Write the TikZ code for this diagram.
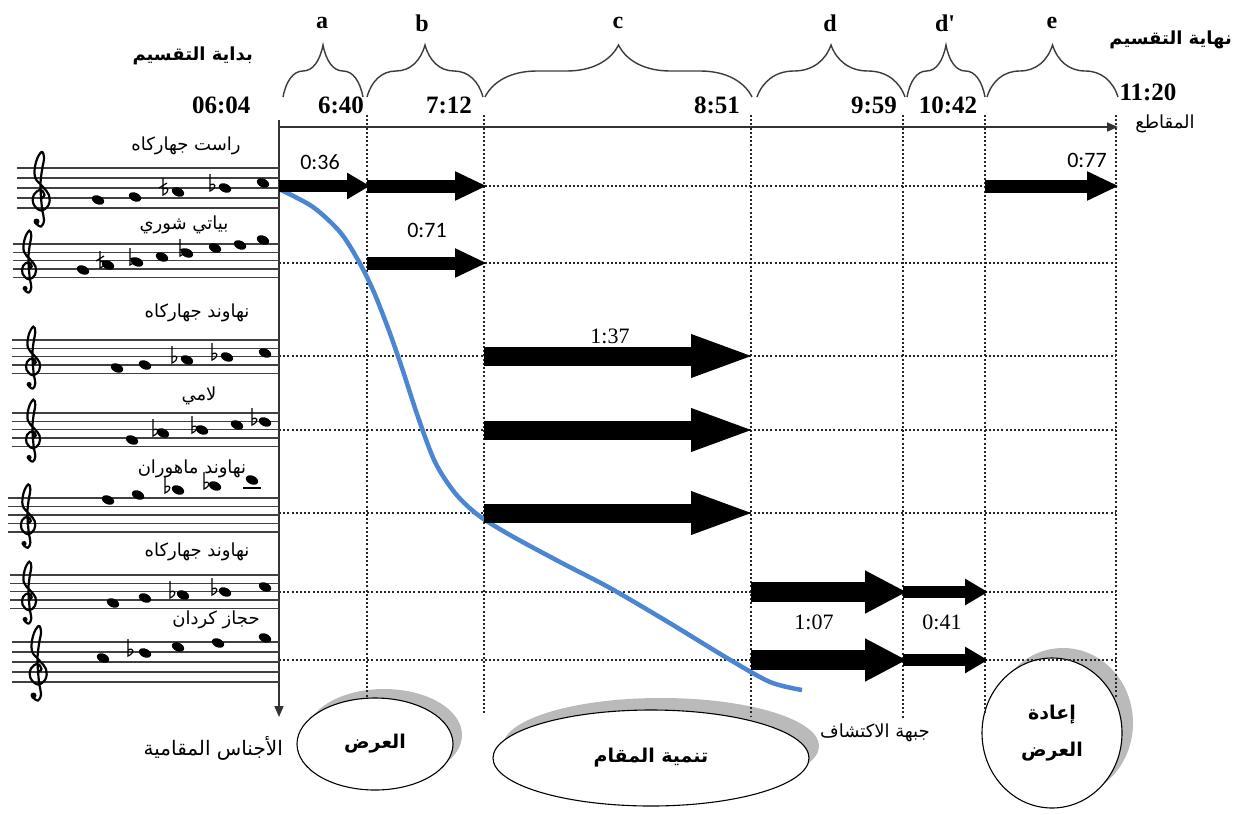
\documentclass[tikz,border=0pt]{standalone}
\usepackage{fontspec}
\setmainfont{Liberation Serif}
\newfontfamily\arabicfont[Script=Arabic]{DejaVu Sans}
\newfontfamily\numsans{Carlito}
\TeXXeTstate=1
\usetikzlibrary{arrows.meta,decorations.pathreplacing,shapes.geometric,shadows}

\definecolor{curveblue}{RGB}{76,134,210}
\definecolor{bracegray}{RGB}{60,60,60}

% right-to-left Arabic text
\newcommand\AR[1]{{\arabicfont\beginR #1\endR}}

% five staff lines from x=#1 to the time axis, top line at #2, spacing #3
\newcommand\staff[3]{%
  \foreach \k in {0,...,4}{\draw[staffline] (#1,#2+\k*#3) -- (279,#2+\k*#3);}}

% treble clef, centre x=#1, bottom staff line y=#2, spacing #3
\newcommand\gclef[3]{%
  \begin{scope}[shift={(#1,#2)},x=#3pt,y=#3pt]
    \draw[line width=2.2pt, line cap=round] plot[smooth, tension=0.65] coordinates
      {(0.05,0.95) (0.45,1.3) (0.05,1.8) (-0.6,1.35) (-0.65,0.4) (0.1,-0.25)
       (0.85,0.3) (0.9,1.3) (0.25,2.15) (-0.5,3.1) (-0.4,4.6) (0.15,5.6)
       (0.4,5.0) (0.2,3.8) (0.05,2.2) (0.2,0.0) (0.4,-1.2) (0.1,-1.85) (-0.4,-1.55)};
    \fill (-0.35,-1.35) circle[radius=0.3];
  \end{scope}}

% note head
\newcommand\nhd[2]{\fill[shift={(#1,#2)},rotate=-25] (0,0) ellipse[x radius=6.5,y radius=4.3];}
% flat sign
\newcommand\kflat[2]{\draw[line width=1.2pt,shift={(#1,#2)}] (0,-14) -- (0,3) .. controls (7,0) and (6,-6) .. (0,-3);}
% flat sign with slash
\newcommand\kkoron[2]{\kflat{#1}{#2}\draw[line width=1.2pt,shift={(#1,#2)}] (-4,-4) -- (4,-9);}

\begin{document}
\begin{tikzpicture}[x=1pt,y=-1pt,
  staffline/.style={line width=1.3pt, black!75},
  grid/.style={line width=2pt, dash pattern=on 2pt off 2.2pt, black!85},
  axis/.style={line width=1.6pt, black!80},
  brc/.style={decorate, decoration={brace, amplitude=52pt}, line width=1.4pt, bracegray},
  letter/.style={font=\bfseries\fontsize{24}{26}\selectfont},
  tlab/.style={font=\bfseries\fontsize{25}{27}\selectfont},
  arb/.style={font=\fontsize{18}{20}\selectfont, inner sep=0pt},
  arbb/.style={font=\bfseries\fontsize{18}{20}\selectfont, inner sep=0pt},
  slab/.style={font=\numsans\fontsize{22}{24}\selectfont},
  rlab/.style={font=\fontsize{22}{24}\selectfont},
  oval/.style={ellipse, draw, line width=1.1pt, fill=white, inner sep=0pt,
    font=\bfseries\fontsize{19}{21}\selectfont},
  arrS/.style={line width=12pt, shorten >=-3pt, -{Triangle[length=23pt 0, width=25pt 0]}},
  arrM/.style={line width=13pt, shorten >=-3pt, -{Triangle[length=32pt 0, width=27pt 0]}},
  arrL/.style={line width=19pt, shorten >=-6pt, -{Triangle[length=66pt 0, width=38pt 0]}},
  arrD/.style={line width=20pt, shorten >=-4pt, -{Triangle[length=42pt 0, width=40pt 0]}},
]
\fill[white] (0,0) rectangle (1239,814);
\useasboundingbox (0,0) rectangle (1239,814);

% section ellipses
\node[oval, minimum width=156pt, minimum height=92pt,
  general shadow={fill=black!27, shadow xshift=9pt, shadow yshift=9pt}]
  (ard) at (375,744) {\raisebox{-8pt}{\AR{العرض}}};
\node[oval, minimum width=316pt, minimum height=96pt,
  general shadow={fill=black!27, shadow xshift=10pt, shadow yshift=12pt}]
  (tanmia) at (651,758) {\raisebox{-8pt}{\AR{تنمية المقام}}};
\node[oval, minimum width=140pt, minimum height=150pt, align=center,
  general shadow={fill=black!27, shadow xshift=11pt, shadow yshift=10pt}]
  (iada) at (1052,733) {\AR{إعادة}\\[16pt]\AR{العرض}};

% grid coordinates
\foreach \n/\x in {0/279,1/367,2/484,3/751,4/903,5/985,6/1116}
  {\coordinate (c\n) at (\x,115);}
\foreach \n/\y in {1/186,2/263,3/356,4/430,5/513,6/592,7/660}
  {\coordinate (r\n) at (279,\y);}
\coordinate (e1) at (367,698);
\coordinate (e2) at (484,715);
\coordinate (e3) at (751,717);
\coordinate (e4) at (903,718);
\coordinate (e5) at (985,715);
\coordinate (e6) at (1116,698);

% dotted grid
\foreach \n in {1,...,7} {\draw[grid] (r\n) -- (c6 |- r\n);}
\foreach \n in {1,...,6} {\draw[grid] (c\n) -- (e\n);}

% time axes
\coordinate (ax0) at (279,120);
\coordinate (axv) at (279,717);
\coordinate (axo) at (279,127);
\coordinate (axh) at (1118,127);
\draw[axis, -{Triangle[length=11pt, width=9pt]}] (ax0) -- (axv);
\draw[axis, -{Triangle[length=11pt, width=9pt]}] (axo) -- (axh);

% braces and section letters
\draw[brc] (283,97) -- (363,97);
\draw[brc] (367,97) -- (483,97);
\draw[brc] (485,97) -- (752,97);
\draw[brc] (757,97) -- (905,97);
\draw[brc] (907,97) -- (985,97);
\draw[brc] (987,97) -- (1118,97);
\node[letter] (la) at (322,23) {a};
\node[letter] (lb) at (422,23) {b};
\node[letter] (lc) at (618,23) {c};
\node[letter] (ld) at (830,23) {d};
\node[letter] (ldd) at (945,23) {d\textquotesingle};
\node[letter] (le) at (1052,23) {e};

% time stamps
\node[tlab, anchor=east] (t0) at (254,105) {06:04};
\node[tlab] (t1) at (341,105) {6:40};
\node[tlab] (t2) at (449,105) {7:12};
\node[tlab] (t3) at (717,105) {8:51};
\node[tlab] (t4) at (874,105) {9:59};
\node[tlab] (t5) at (948,105) {10:42};
\node[tlab, anchor=west] (t6) at (1116,92) {11:20};

\node[arbb, anchor=east] (beg) at (253,56) {\AR{بداية التقسيم}};
\node[arbb, anchor=east] (fin) at (1232,40) {\AR{نهاية التقسيم}};
\node[arb] (maq) at (1165,124) {\AR{المقاطع}};

% staves
\staff{17}{168}{10}    \gclef{40}{208}{10}
\staff{13}{244}{8.3}   \gclef{28}{277.2}{8.3}
\staff{12}{340}{8.3}   \gclef{32}{373.2}{8.3}
\staff{12}{413}{8.3}   \gclef{32}{446.2}{8.3}
\staff{8}{498}{8.5}    \gclef{27}{532}{8.5}
\staff{10}{575}{8.3}   \gclef{28}{608.2}{8.3}
\staff{12}{642}{10}    \gclef{37}{682}{10}

% notes
\foreach \x/\y in {98/200,135/197,178/192,225/188,263/183} {\nhd{\x}{\y}}
\kkoron{163}{192} \kflat{210}{188}
\foreach \x/\y in {83/270,108/265,137/262,162/257,187/253,215/248,240/245,263/240} {\nhd{\x}{\y}}
\kkoron{100}{265} \kflat{130}{262} \kflat{180}{253}
\foreach \x/\y in {117/368,145/365,187/360,227/357,265/353} {\nhd{\x}{\y}}
\kflat{172}{360} \kflat{212}{357}
\foreach \x/\y in {132/440,163/433,202/430,237/425,265/422} {\nhd{\x}{\y}}
\kflat{153}{433} \kflat{192}{430} \kflat{252}{422}
\foreach \x/\y in {108/500,138/495,178/490,215/486,252/480} {\nhd{\x}{\y}}
\kflat{165}{490} \kflat{204}{486}
\draw[line width=1.3pt] (243,488) -- (261,488);
\foreach \x/\y in {113/603,145/598,183/595,225/592,265/587} {\nhd{\x}{\y}}
\kflat{170}{595} \kflat{212}{592}
\foreach \x/\y in {103/658,145/653,178/647,218/643,265/638} {\nhd{\x}{\y}}
\kflat{128}{653}

% genre names
\node[arb] (g1) at (186,146) {\AR{راست جهاركاه}};
\node[arb] (g2) at (184,225) {\AR{بياتي شوري}};
\node[arb] (g3) at (197,313) {\AR{نهاوند جهاركاه}};
\node[arb] (g4) at (199,396) {\AR{لامي}};
\node[arb] (g5) at (192,469) {\AR{نهاوند ماهوران}};
\node[arb] (g6) at (197,552) {\AR{نهاوند جهاركاه}};
\node[arb] (g7) at (216,620) {\AR{حجاز كردان}};
\node[arb, anchor=east, font=\fontsize{20}{22}\selectfont] (ajnas) at (283,748) {\AR{الأجناس المقامية}};
\node[arb, anchor=east] (jabha) at (930,733) {\AR{جبهة الاكتشاف}};

% tonal curve
\draw[curveblue, line width=4.5pt] plot[smooth, tension=0.5] coordinates
  {(281,190) (313,207) (340,232) (358,260) (373,290) (388,328) (402,368)
   (418,417) (435,462) (455,493) (478,515) (510,535) (560,562) (610,588)
   (668,622) (727,658) (770,682) (802,690)};

% durations
\draw[arrS] (c0 |- r1) -- (c1 |- r1);
\draw[arrM] (c1 |- r1) -- (c2 |- r1);
\draw[arrM] (c1 |- r2) -- (c2 |- r2);
\draw[arrL] (c2 |- r3) -- (c3 |- r3);
\draw[arrL] (c2 |- r4) -- (c3 |- r4);
\draw[arrL] (c2 |- r5) -- (c3 |- r5);
\draw[arrD] (c3 |- r6) -- (c4 |- r6);
\draw[arrD] (c3 |- r7) -- (c4 |- r7);
\draw[arrS] (c4 |- r6) -- (c5 |- r6);
\draw[arrS] (c4 |- r7) -- (c5 |- r7);
\draw[arrM] (c5 |- r1) -- (c6 |- r1);

\node[slab] (d1) at (320,162) {0:36};
\node[slab] (d2) at (427,230) {0:71};
\node[rlab] (d3) at (610,336) {1:37};
\node[rlab] (d4) at (814,622) {1:07};
\node[rlab] (d5) at (942,622) {0:41};
\node[slab] (d6) at (1087,160) {0:77};
\end{tikzpicture}
\end{document}
